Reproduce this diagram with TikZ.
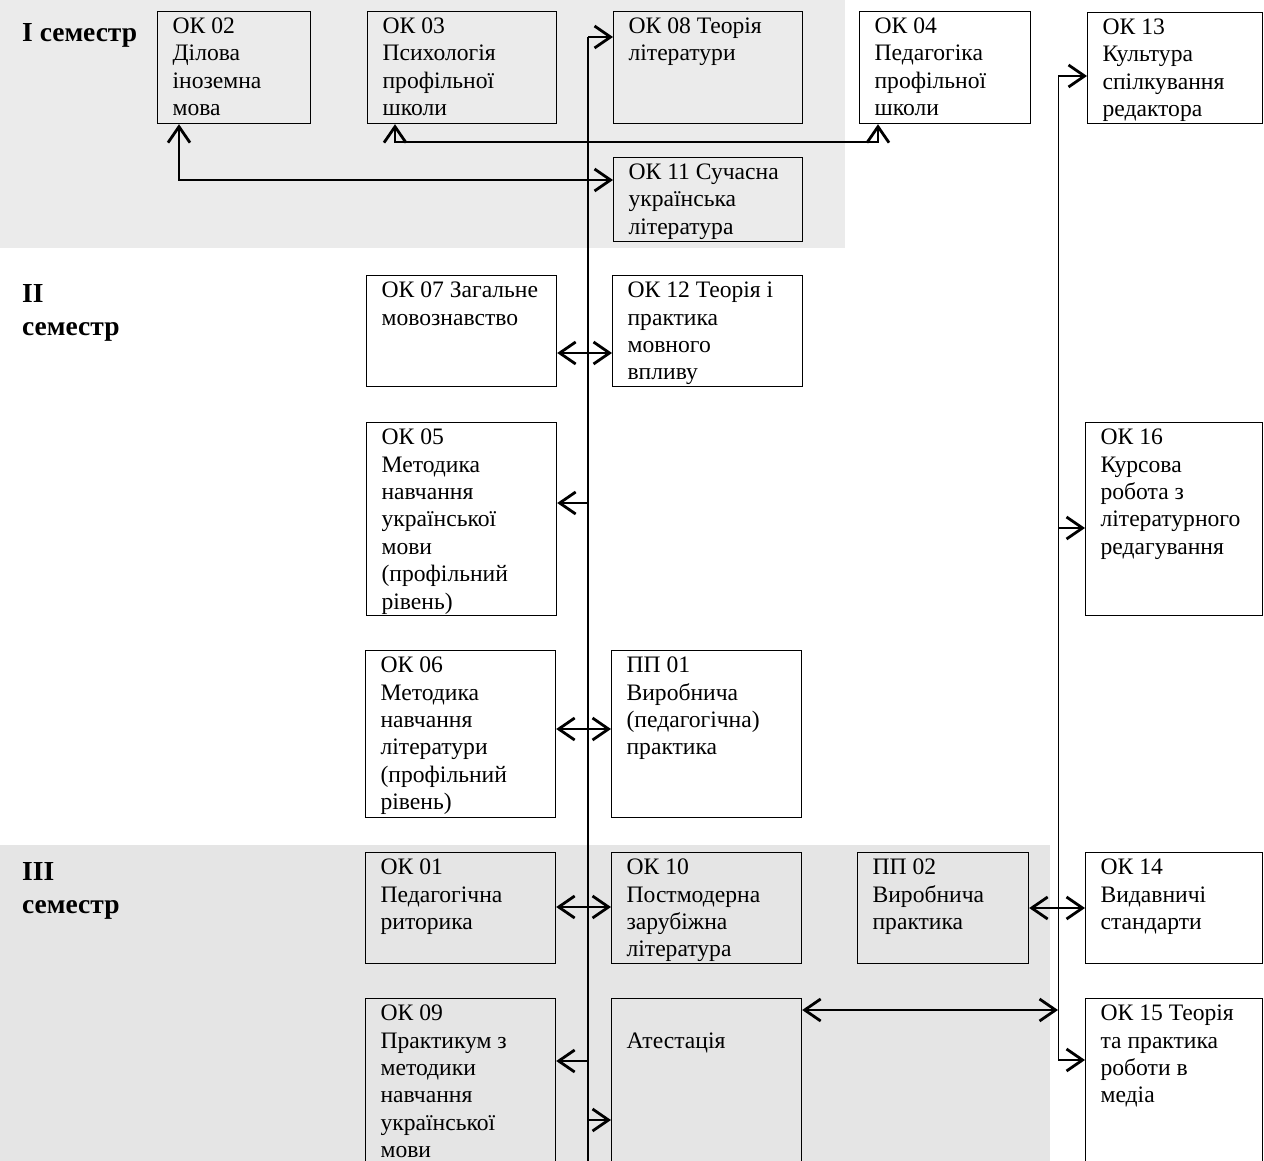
\documentclass[tikz,border=0pt]{standalone}
\usepackage{fontspec}
\setmainfont{Liberation Serif}
\usetikzlibrary{arrows.meta,calc}
\newcommand\courseBox[6]{%
  \node[bx] (#1) at (#2,#3) {\parbox[c][\dimexpr#5pt\relax][t]{\dimexpr#4pt-30pt\relax}{\raggedright\rule{0pt}{22pt}#6}};}
\begin{document}
\begin{tikzpicture}[x=1pt,y=-1pt,
  bx/.style={draw=black, line width=1.2pt, inner xsep=15pt, inner ysep=0pt, anchor=north west, font=\fontsize{23.6}{27.4}\selectfont},
  sem/.style={font=\fontsize{27.5}{33}\selectfont\bfseries, inner sep=0pt, align=left, anchor=north west},
  trunk/.style={line width=1.4pt},
  conn/.style={line width=2pt, -{Straight Barb[length=16pt,width=22pt,line width=2.8pt]}},
  conn2/.style={line width=2pt, {Straight Barb[length=16pt,width=22pt,line width=2.8pt]}-{Straight Barb[length=16pt,width=22pt,line width=2.8pt]}},
]
\useasboundingbox (0,0) rectangle (1264,1161);
\clip (0,0) rectangle (1264,1161);
% scanned background tones
\fill[black!8] (0,0) rectangle (845,248);
\fill[black!10] (0,845) rectangle (1050,1161);

% semester labels
\node[sem] (s1) at (22,23) {I семестр};
\node[sem] (s2) at (22,284) {II\\семестр};
\node[sem] (s3) at (22,862) {III\\семестр};

% course boxes
\courseBox{OK02}{157}{11}{153}{112}{ОК 02\\Ділова\\іноземна\\мова}
\courseBox{OK03}{367}{11}{189}{112}{ОК 03\\Психологія\\профільної\\школи}
\courseBox{OK08}{613}{11}{189}{112}{ОК 08 Теорія\\літератури}
\courseBox{OK04}{859}{11}{171}{112}{ОК 04\\Педагогіка\\профільної\\школи}
\courseBox{OK13}{1087}{12}{175}{111}{ОК 13\\Культура\\спілкування\\редактора}
\courseBox{OK11}{613}{157}{189}{84}{ОК 11 Сучасна\\українська\\література}
\courseBox{OK07}{366}{275}{190}{111}{ОК 07 Загальне\\мовознавство}
\courseBox{OK12}{612}{275}{190}{111}{ОК 12 Теорія і\\практика\\мовного\\впливу}
\courseBox{OK05}{366}{422}{190}{193}{ОК 05\\Методика\\навчання\\української\\мови\\(профільний\\рівень)}
\courseBox{OK16}{1085}{422}{177}{193}{ОК 16\\Курсова\\робота з\\літературного\\редагування}
\courseBox{OK06}{365}{650}{190}{167}{ОК 06\\Методика\\навчання\\літератури\\(профільний\\рівень)}
\courseBox{PP01}{611}{650}{190}{167}{ПП 01\\Виробнича\\(педагогічна)\\практика}
\courseBox{OK01}{365}{852}{190}{111}{ОК 01\\Педагогічна\\риторика}
\courseBox{OK10}{611}{852}{190}{111}{ОК 10\\Постмодерна\\зарубіжна\\література}
\courseBox{PP02}{857}{852}{171}{111}{ПП 02\\Виробнича\\практика}
\courseBox{OK14}{1085}{852}{177}{111}{ОК 14\\Видавничі\\стандарти}
\courseBox{OK09}{365}{998}{190}{200}{ОК 09\\Практикум з\\методики\\навчання\\української\\мови}
\courseBox{AT}{611}{998}{190}{200}{\\Атестація}
\courseBox{OK15}{1085}{998}{177}{200}{ОК 15 Теорія\\та практика\\роботи в\\медіа}

% connector points
\coordinate (tTop) at (588,37);
\coordinate (tBot) at (588,1175);
\coordinate (rTop) at (1058,76);
\coordinate (rBot) at (1058,1060);
\coordinate (a1) at (179,180);
\coordinate (b1) at (395,142);
\coordinate (b2) at (878,142);
\coordinate (k353) at (588,353);
\coordinate (k503) at (588,503);
\coordinate (k729) at (588,729);
\coordinate (k907) at (588,907);
\coordinate (k1061) at (588,1061);
\coordinate (k1120) at (588,1120);
\coordinate (r528) at (1058,528);
\coordinate (r908) at (1058,908);
\coordinate (r1010) at (1058,1010);

% main trunk
\draw[trunk] (tTop) -- (tBot);
\draw[conn] (tTop) -- (tTop -| OK08.west);
\draw[conn2] (a1 |- OK02.south) -- (a1) -- (a1 -| OK11.west);
\draw[conn2] (b1 |- OK03.south) -- (b1) -- (b2) -- (b2 |- OK04.south);
\draw[conn2] (k353 -| OK07.east) -- (k353 -| OK12.west);
\draw[conn] (k503) -- (k503 -| OK05.east);
\draw[conn2] (k729 -| OK06.east) -- (k729 -| PP01.west);
\draw[conn2] (k907 -| OK01.east) -- (k907 -| OK10.west);
\draw[conn] (k1061) -- (k1061 -| OK09.east);
\draw[conn] (k1120) -- (k1120 -| AT.west);

% right trunk
\draw[line width=1pt] (rTop) -- (rBot);
\draw[conn] (rTop) -- (rTop -| OK13.west);
\draw[conn] (r528) -- (r528 -| OK16.west);
\draw[conn2] (r908 -| PP02.east) -- (r908 -| OK14.west);
\draw[conn2] (r1010 -| AT.east) -- (r1010);
\draw[conn] (rBot) -- (rBot -| OK15.west);
\end{tikzpicture}
\end{document}
